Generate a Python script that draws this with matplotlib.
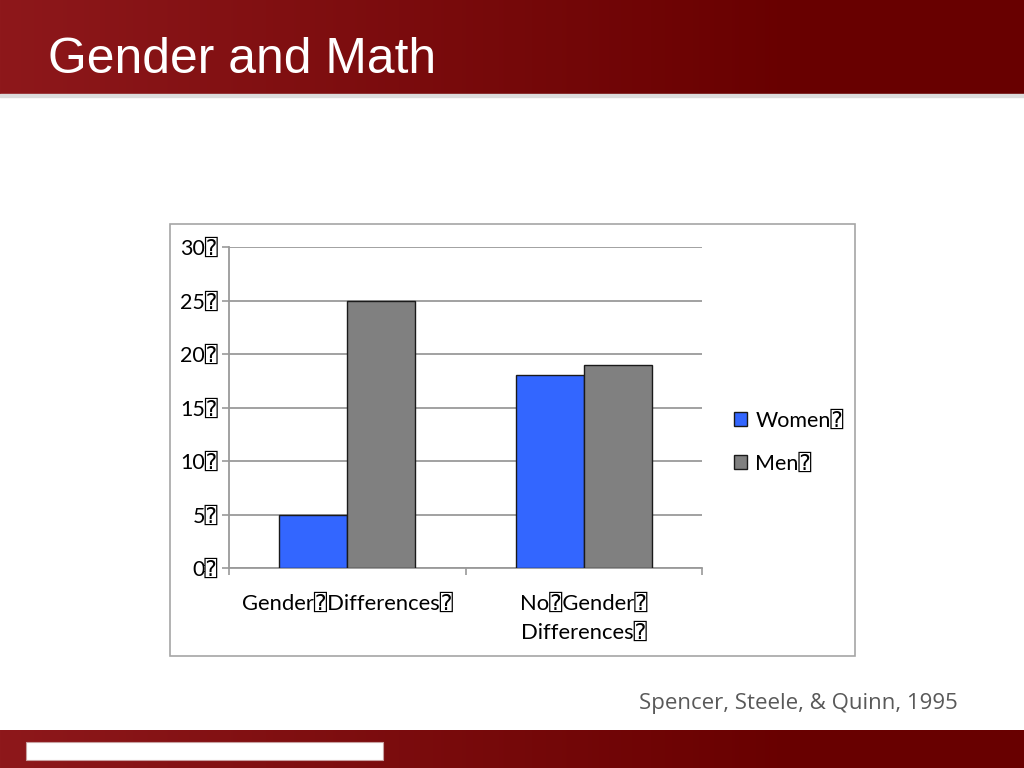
import numpy as np
import matplotlib
matplotlib.use("Agg")
from matplotlib import pyplot as plt
from matplotlib.patches import Rectangle

# data
categories = ["Gender\u2370Differences\u2370", "No\u2370Gender\u2370\nDifferences\u2370"]
women = [5, 18]
men = [25, 19]
series_names = ["Women\u2370", "Men\u2370"]
yticks = [0, 5, 10, 15, 20, 25, 30]

txt_font = ["Lato", "DejaVu Sans", "DejaVu Sans Mono"]

fig = plt.figure(figsize=(10.24, 7.68), dpi=100)
fig.patch.set_facecolor("white")

# background / slide decoration in pixel coords
bg = fig.add_axes([0, 0, 1, 1])
bg.set_xlim(0, 1024)
bg.set_ylim(768, 0)
bg.axis("off")

left_c = np.array([142, 24, 27]) / 255
right_c = np.array([104, 0, 0]) / 255
t = np.clip(np.linspace(0, 1, 1024) / 0.78, 0, 1)
grad = left_c[None, :] * (1 - t[:, None]) + right_c[None, :] * t[:, None]
grad = grad[None, :, :]
bg.imshow(grad, extent=(0, 1024, 94, 0), aspect="auto", zorder=1)
bg.imshow(grad, extent=(0, 1024, 768, 730), aspect="auto", zorder=1)
bg.add_patch(Rectangle((0, 94), 1024, 2.5, color="#dcdcdc", zorder=1))
bg.add_patch(Rectangle((26, 742), 357, 18, facecolor="white", edgecolor="#c8a0a0", lw=0.8, zorder=2))
bg.set_xlim(0, 1024)
bg.set_ylim(768, 0)

bg.text(48, 73, "Gender and Math", color="white", fontsize=35.8,
        family="Liberation Sans", va="baseline", ha="left", zorder=3)
bg.text(798, 704, "Spencer, Steele, & Quinn, 1995", color="#595959", fontsize=16,
        family="Open Sans", va="center", ha="center", zorder=3)

# chart frame
bg.add_patch(Rectangle((170, 224), 685, 432, facecolor="white", edgecolor="#a6a6a6", lw=1.2, zorder=1))

# chart axes
ax = fig.add_axes([229 / 1024, (768 - 568) / 768, 473 / 1024, 321 / 768])
ax.set_facecolor("none")
x = np.arange(len(categories))
w = 0.2875
b1 = ax.bar(x - w / 2, women, w, color="#3366ff", edgecolor="#1a1a1a", lw=1, zorder=3, label=series_names[0])
b2 = ax.bar(x + w / 2, men, w, color="#808080", edgecolor="#1a1a1a", lw=1, zorder=3, label=series_names[1])

ax.set_xlim(-0.5, 1.5)
ax.set_ylim(0, 30)
ax.set_yticks(yticks)
ax.set_yticklabels([f"{v}\u2370" for v in yticks], family=txt_font, fontsize=15.5)
ax.yaxis.grid(True, color="#9a9a9a", lw=1.3, zorder=0)
ax.tick_params(axis="y", length=5, width=1.2, color="#9a9a9a", pad=3)

ax.set_xticks(x)
ax.set_xticklabels(categories, family=txt_font, fontsize=15.8, linespacing=1.55, va="top")
ax.set_xticks([-0.5, 0.5, 1.5], minor=True)
ax.tick_params(axis="x", which="major", length=0, pad=18.5)
ax.tick_params(axis="x", which="minor", length=5, width=1.2, color="#9a9a9a")

for s in ["top", "right"]:
    ax.spines[s].set_visible(False)
for s in ["left", "bottom"]:
    ax.spines[s].set_color("#9a9a9a")
    ax.spines[s].set_linewidth(1.3)

leg = ax.legend(handles=[b1, b2], loc="center left", bbox_to_anchor=(723 / 1024, (768 - 442) / 768),
                bbox_transform=fig.transFigure, frameon=False, handlelength=0.6, handleheight=0.6,
                handletextpad=0.4, labelspacing=1.05, borderpad=0,
                prop={"family": txt_font, "size": 15.5})

fig.savefig("out.png", dpi=100)
